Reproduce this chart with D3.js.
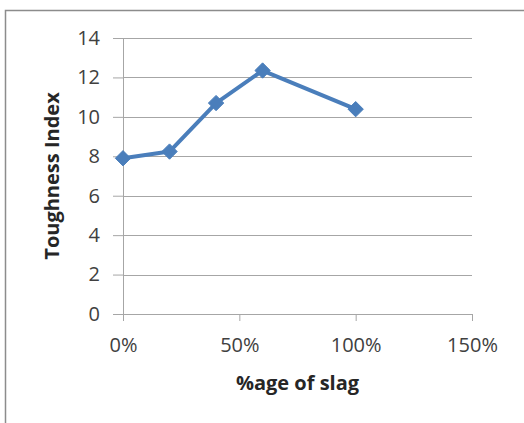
<!DOCTYPE html>
<html>
<head>
<meta charset="utf-8">
<script src="https://cdn.jsdelivr.net/npm/d3@7"></script>
<style>
  body { margin: 0; background: #fff; }
  .axis text { font-family: "Open Sans", "Liberation Sans", sans-serif; font-size: 20px; fill: #404040; }
</style>
</head>
<body>
<script>
var slagPct = [0, 0.2, 0.4, 0.6, 1.0];
var toughness = [7.9, 8.24, 10.7, 12.35, 10.39];
var xTicks = [0, 0.5, 1.0, 1.5];
var yTicks = [0, 2, 4, 6, 8, 10, 12, 14];

var width = 524, height = 423;
var margin = {top: 38, right: 52, bottom: 109, left: 123};

var svg = d3.select("body").append("svg")
    .attr("width", width)
    .attr("height", height);

// chart border
svg.append("rect")
    .attr("x", 5.5).attr("y", 10.5)
    .attr("width", 530).attr("height", 430)
    .attr("fill", "none")
    .attr("stroke", "#8c8c8c")
    .attr("stroke-width", 1.5);

var g = svg.append("g")
    .attr("transform", "translate(" + margin.left + "," + margin.top + ")");

var w = width - margin.left - margin.right;
var h = height - margin.top - margin.bottom;

var x = d3.scaleLinear().domain([0, 1.5]).range([0, w]);
var y = d3.scaleLinear().domain([0, 14]).range([h, 0]);

// gridlines
g.selectAll(".grid")
    .data(yTicks.filter(function(d) { return d > 0; }))
    .enter().append("line")
        .attr("class", "grid")
        .attr("x1", 0).attr("x2", w)
        .attr("y1", function(d) { return Math.round(y(d)) + 0.5; })
        .attr("y2", function(d) { return Math.round(y(d)) + 0.5; })
        .attr("stroke", "#a6a6a6")
        .attr("stroke-width", 1.2);

var leftAxis = d3.axisLeft(y).tickValues(yTicks).tickSize(10).tickPadding(13);
var gy = g.append("g").attr("class", "axis").call(leftAxis);
gy.select(".domain").attr("stroke", "#a6a6a6").attr("d", "M0.5," + h + "V0");
gy.selectAll("line").attr("stroke", "#a6a6a6");

var bottomAxis = d3.axisBottom(x).tickValues(xTicks).tickSize(7).tickPadding(17)
    .tickFormat(d3.format(".0%"));
var gx = g.append("g").attr("class", "axis")
    .attr("transform", "translate(0," + h + ")")
    .call(bottomAxis);
gx.select(".domain").attr("stroke", "#a6a6a6").attr("d", "M0,0.5H" + w);
gx.selectAll("line").attr("stroke", "#a6a6a6");

var data = slagPct.map(function(d, i) { return {x: d, y: toughness[i]}; });

g.append("path")
    .datum(data)
    .attr("fill", "none")
    .attr("stroke", "#4a7ebb")
    .attr("stroke-width", 4)
    .attr("stroke-linejoin", "round")
    .attr("d", d3.line().x(function(d) { return x(d.x); }).y(function(d) { return y(d.y); }));

g.selectAll(".marker")
    .data(data)
    .enter().append("path")
        .attr("class", "marker")
        .attr("d", d3.symbol().type(d3.symbolDiamond2).size(150))
        .attr("transform", function(d) { return "translate(" + x(d.x) + "," + y(d.y) + ")"; })
        .attr("fill", "#4a7ebb")
        .attr("stroke", "#4a7ebb")
        .attr("stroke-width", 1);

g.append("text")
    .attr("x", w / 2)
    .attr("y", h + 76)
    .attr("text-anchor", "middle")
    .attr("font-family", "'Open Sans', 'Liberation Sans', sans-serif")
    .attr("font-size", "20px")
    .attr("font-weight", "bold")
    .attr("fill", "#262626")
    .text("%age of slag");

g.append("text")
    .attr("transform", "rotate(-90)")
    .attr("x", -y(7))
    .attr("y", -64)
    .attr("text-anchor", "middle")
    .attr("font-family", "'Open Sans', 'Liberation Sans', sans-serif")
    .attr("font-size", "20px")
    .attr("font-weight", "bold")
    .attr("fill", "#262626")
    .text("Toughness Index");
</script>
</body>
</html>
